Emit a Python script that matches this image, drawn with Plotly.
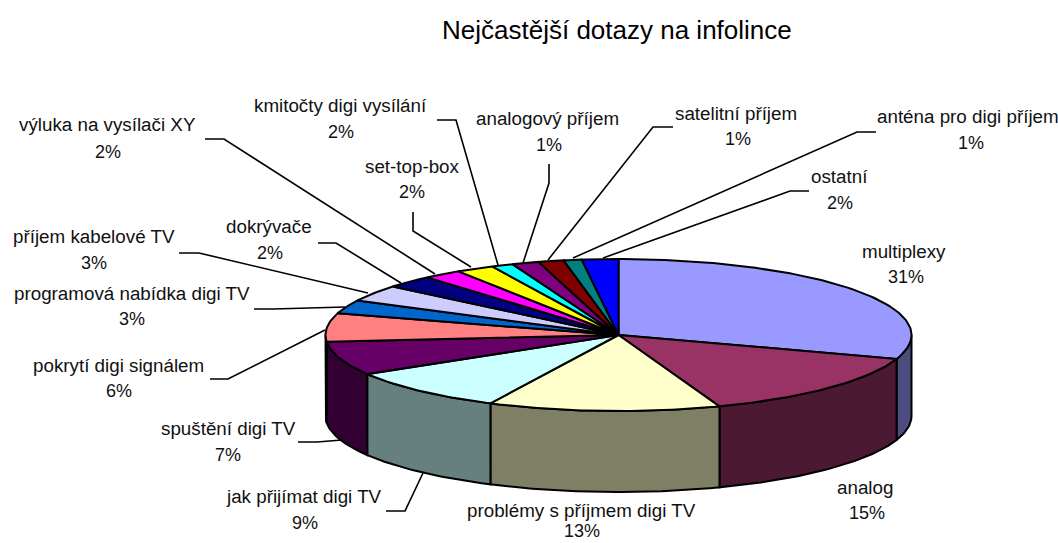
import math
import plotly.graph_objects as go

# --- data ---
categories = ["multiplexy", "analog", "problémy s příjmem digi TV", "jak přijímat digi TV",
              "spuštění digi TV", "pokrytí digi signálem", "programová nabídka digi TV",
              "příjem kabelové TV", "dokrývače", "výluka na vysílači XY", "set-top-box",
              "kmitočty digi vysílání", "analogový příjem", "satelitní příjem",
              "anténa pro digi příjem", "ostatní"]
shares = [30.1, 14.3, 12.8, 9.2, 7.2, 6.0, 2.9, 3.5, 2.7, 2.1, 2.1, 1.2, 1.5, 1.4, 1.0, 2.0]
# percentages as printed in the labels
printed = ["31%", "15%", "13%", "9%", "7%", "6%", "3%", "3%", "2%", "2%", "2%", "2%", "1%", "1%", "1%", "2%"]

# --- styles ---
top_colors = ["#9999FF", "#993366", "#FFFFCC", "#CCFFFF", "#660066", "#FF8080", "#0066CC", "#CCCCFF",
              "#000080", "#FF00FF", "#FFFF00", "#00FFFF", "#800080", "#800000", "#008080", "#0000FF"]

# --- layout geometry (pixels) ---
CX, CY, RX, RY, DEPTH = 618.5, 335, 293, 76, 81
name_pos = [(904, 251), (865, 487), (581, 510), (304, 496), (228, 428), (118, 365), (132, 293), (94, 236),
            (269, 226), (107, 124), (412, 166), (340, 105), (547, 118), (736, 113), (968, 116), (839, 176)]
pct_pos = [(906, 277), (867, 513), (582, 531), (305, 523), (228, 455), (119, 391), (132, 319), (94, 263),
           (270, 253), (108, 152), (412, 192), (341, 132), (549, 145), (738, 139), (971, 143), (840, 203)]
leaders = [None, None, None,
           [(386, 511), (405, 511), (423, 473)],
           [(298, 442), (317, 442), (342, 440)],
           [(210, 379), (228, 379), (325, 330)],
           [(254, 309), (273, 309), (345, 307)],
           [(179, 253), (199, 253), (368, 293)],
           [(318, 243), (336, 243), (401, 283)],
           [(205, 139), (224, 139), (435, 274)],
           [(413, 212), (413, 231), (471, 267)],
           [(437, 120), (456, 120), (498, 265)],
           [(549, 164), (549, 183), (523, 263)],
           [(673, 127), (653, 127), (548, 260)],
           [(876, 132), (857, 132), (573, 258)],
           [(809, 191), (790, 191), (603, 258)]]


def darker(hex_color):
    r, g, b = [int(hex_color[i:i + 2], 16) // 2 for i in (1, 3, 5)]
    return f"#{r:02X}{g:02X}{b:02X}"


def rim(t_deg, drop=0.0):
    t = math.radians(t_deg)
    return CX + RX * math.sin(t), CY - RY * math.cos(t) + drop


def arc(a, b, drop=0.0):
    n = max(2, int(abs(b - a)) + 2)
    return [rim(a + (b - a) * i / (n - 1), drop) for i in range(n)]


fig = go.Figure()


def add_poly(points, fill=None, width=2.0):
    fig.add_trace(go.Scatter(
        x=[p[0] for p in points], y=[p[1] for p in points], mode="lines",
        line=dict(color="black", width=width, shape="linear"),
        fill="toself" if fill else None, fillcolor=fill, hoverinfo="skip", showlegend=False))


for line in leaders:
    if line:
        add_poly(line, width=1.6)

total = sum(shares)
edges = [0.0]
for v in shares:
    edges.append(edges[-1] + v / total * 360)

# outer wall: only the near half of the rim is visible
for i, color in enumerate(top_colors):
    a, b = max(edges[i], 90), min(edges[i + 1], 270)
    if a < b:
        pts = arc(a, b) + arc(b, a, DEPTH)
        add_poly(pts + pts[:1], fill=darker(color))

# top face
for i, color in enumerate(top_colors):
    pts = [(CX, CY)] + arc(edges[i], edges[i + 1]) + [(CX, CY)]
    add_poly(pts, fill=color)

annotations = [dict(x=617, y=30, text="Nejčastější dotazy na infolince", showarrow=False,
                    font=dict(size=26, color="black"))]
for name, pct, np_, pp in zip(categories, printed, name_pos, pct_pos):
    annotations.append(dict(x=np_[0], y=np_[1], text=name, showarrow=False, font=dict(size=18.8, color="#111111")))
    annotations.append(dict(x=pp[0], y=pp[1], text=pct, showarrow=False, font=dict(size=18, color="#111111")))

fig.update_layout(
    width=1058, height=543, margin=dict(l=0, r=0, t=0, b=0),
    paper_bgcolor="white", plot_bgcolor="white", showlegend=False,
    font=dict(family="Liberation Sans, Arial, sans-serif"),
    xaxis=dict(range=[0, 1058], visible=False, fixedrange=True),
    yaxis=dict(range=[543, 0], visible=False, fixedrange=True),
    annotations=annotations,
)
fig.write_html("out.html", config=dict(displayModeBar=False),
               post_script="document.body.style.margin='0';document.body.style.overflow='hidden';")
